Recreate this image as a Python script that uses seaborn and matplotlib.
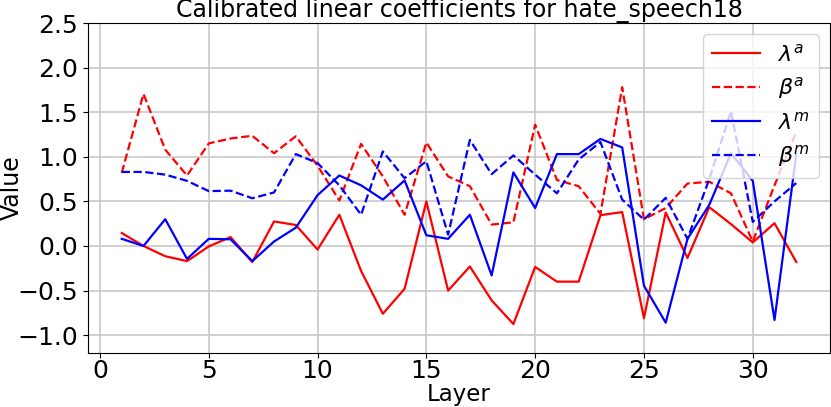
import matplotlib
matplotlib.use("Agg")
import matplotlib.pyplot as plt
import seaborn as sns
import pandas as pd

layers = list(range(1, 33))

lam_a = [0.145, 0.0, -0.115, -0.17, -0.005, 0.10, -0.18, 0.275, 0.235, -0.04,
         0.35, -0.28, -0.76, -0.48, 0.50, -0.50, -0.23, -0.61, -0.875, -0.235,
         -0.40, -0.40, 0.345, 0.38, -0.81, 0.375, -0.135, 0.435, 0.245, 0.04,
         0.255, -0.18]
beta_a = [0.82, 1.705, 1.08, 0.79, 1.15, 1.205, 1.235, 1.04, 1.23, 0.90,
          0.51, 1.145, 0.78, 0.35, 1.16, 0.78, 0.67, 0.24, 0.265, 1.36,
          0.74, 0.67, 0.36, 1.78, 0.30, 0.425, 0.70, 0.72, 0.59, 0.05,
          0.68, 1.28]
lam_m = [0.08, 0.0, 0.30, -0.145, 0.08, 0.075, -0.17, 0.05, 0.205, 0.57,
         0.79, 0.68, 0.52, 0.735, 0.12, 0.08, 0.35, -0.33, 0.825, 0.425,
         1.03, 1.03, 1.20, 1.105, -0.445, -0.86, 0.08, 0.46, 1.04, 0.73,
         -0.83, 1.03]
beta_m = [0.83, 0.83, 0.80, 0.73, 0.615, 0.62, 0.535, 0.60, 1.03, 0.93,
          0.68, 0.35, 1.06, 0.76, 0.95, 0.127, 1.19, 0.805, 1.015, 0.80,
          0.59, 0.97, 1.165, 0.52, 0.295, 0.54, 0.08, 0.75, 1.51, 0.27,
          0.50, 0.705]

series_labels = [r"$\lambda^a$", r"$\beta^a$", r"$\lambda^m$", r"$\beta^m$"]
series_values = [lam_a, beta_a, lam_m, beta_m]
series_colors = ["red", "red", "blue", "blue"]
series_dashes = ["-", "--", "-", "--"]

title = "Calibrated linear coefficients for hate_speech18"

fig = plt.figure(figsize=(8.31, 4.07), dpi=100)
ax = fig.add_axes([88 / 831, (407 - 353) / 407, (830 - 88) / 831, (353 - 23) / 407])

for lab, vals, col, ls in zip(series_labels, series_values, series_colors, series_dashes):
    df = pd.DataFrame({"Layer": layers, "Value": vals})
    sns.lineplot(data=df, x="Layer", y="Value", ax=ax, color=col, linestyle=ls,
                 linewidth=1.6, label=lab)

ax.set_xlim(-0.55, 33.55)
ax.set_ylim(-1.2, 2.5)
ax.set_xticks([0, 5, 10, 15, 20, 25, 30])
ax.set_yticks([-1.0, -0.5, 0.0, 0.5, 1.0, 1.5, 2.0, 2.5])
ax.tick_params(labelsize=18, length=3.5)
ax.tick_params(axis="x", pad=1)
ax.set_xlabel("Layer", fontsize=16.5)
ax.xaxis.set_label_coords(0.5, -0.0894)
ax.set_ylabel("Value", fontsize=17)
ax.yaxis.set_label_coords(-0.087, 0.5)
ax.set_title(title, fontsize=17, pad=0)
ax.grid(True, color="#c8c8c8", linewidth=1.2)
ax.legend(loc="upper right", fontsize=16, framealpha=0.8, handlelength=2.2,
          labelspacing=0.45)

fig.savefig("out.png", dpi=100)
